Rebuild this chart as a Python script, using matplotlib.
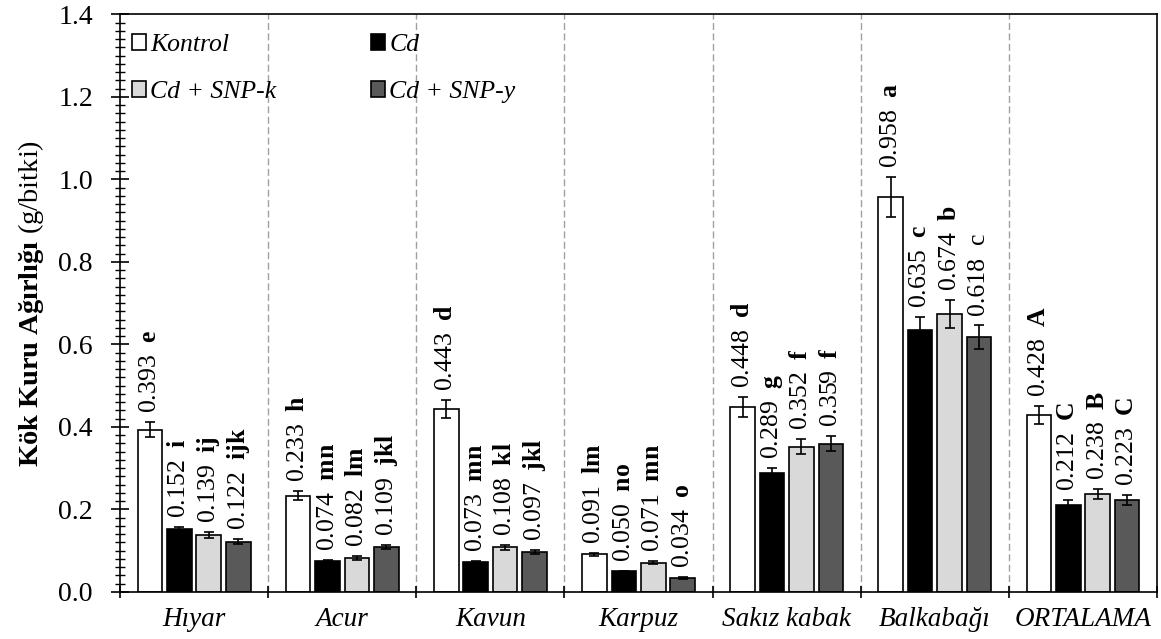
import numpy as np
import matplotlib
matplotlib.use("Agg")
import matplotlib.pyplot as plt
from matplotlib.ticker import MultipleLocator

plt.rcParams["font.family"] = ["Liberation Serif", "DejaVu Serif"]
plt.rcParams["mathtext.fontset"] = "custom"
plt.rcParams["mathtext.rm"] = "Liberation Serif"
plt.rcParams["mathtext.it"] = "Liberation Serif:italic"
plt.rcParams["mathtext.bf"] = "Liberation Serif:bold"

# Data
groups = ["Hıyar", "Acur", "Kavun", "Karpuz", "Sakız kabak", "Balkabağı", "ORTALAMA"]
treatments = ["Kontrol", "Cd", "Cd + SNP-k", "Cd + SNP-y"]

kontrol = [0.393, 0.233, 0.443, 0.091, 0.448, 0.958, 0.428]
cd = [0.152, 0.074, 0.073, 0.050, 0.289, 0.635, 0.212]
cd_snp_k = [0.139, 0.082, 0.108, 0.071, 0.352, 0.674, 0.238]
cd_snp_y = [0.122, 0.109, 0.097, 0.034, 0.359, 0.618, 0.223]

err_kontrol = [0.018, 0.011, 0.022, 0.004, 0.025, 0.048, 0.022]
err_cd = [0.006, 0.003, 0.003, 0.002, 0.012, 0.032, 0.010]
err_snp_k = [0.007, 0.004, 0.006, 0.003, 0.018, 0.034, 0.012]
err_snp_y = [0.006, 0.005, 0.004, 0.002, 0.018, 0.030, 0.011]

let_kontrol = ["e", "h", "d", "lm", "d", "a", "A"]
let_cd = ["i", "mn", "mn", "no", "g", "c", "C"]
let_snp_k = ["ij", "lm", "kl", "mn", "f", "b", "B"]
let_snp_y = ["ijk", "jkl", "jkl", "o", "f", "c", "C"]
# the 0.618 "c" is not bold in the original
bold_snp_y = [True, True, True, True, True, False, True]

values = [kontrol, cd, cd_snp_k, cd_snp_y]
errors = [err_kontrol, err_cd, err_snp_k, err_snp_y]
letters = [let_kontrol, let_cd, let_snp_k, let_snp_y]
bolds = [[True] * 7, [True] * 7, [True] * 7, bold_snp_y]
colors = ["white", "black", "#d9d9d9", "#595959"]

fig = plt.figure(figsize=(11.61, 6.39), dpi=100)
ax = fig.add_axes([0.1034, 0.0736, 0.8932, 0.9038])

centers = np.arange(len(groups)) + 0.5
offsets = [-0.298, -0.099, 0.099, 0.298]
width = 0.166

# group separators
for b in range(1, len(groups)):
    ax.axvline(b, color="#a0a0a0", lw=1, linestyle=(0, (5, 2.5)), zorder=0)

for k in range(4):
    x = centers + offsets[k]
    ax.bar(
        x, values[k], width,
        color=colors[k], edgecolor="black", linewidth=1.2,
        label=treatments[k], zorder=2,
    )
    ax.errorbar(
        x, values[k], yerr=errors[k],
        fmt="none", ecolor="black", elinewidth=1.2,
        capsize=3.5, capthick=1.2, zorder=3,
    )
    for i in range(len(groups)):
        let = letters[k][i]
        if bolds[k][i]:
            lab = f"{values[k][i]:.3f}  $\\mathbf{{{let}}}$"
        else:
            lab = f"{values[k][i]:.3f}  {let}"
        ax.annotate(
            lab,
            xy=(x[i], values[k][i] + errors[k][i]),
            xytext=(0, 9), textcoords="offset pixels",
            rotation=90, ha="center", va="bottom",
            fontsize=18.5,
        )

ax.set_xlim(0, len(groups))
ax.set_ylim(0, 1.4)

ax.set_xticks(np.arange(len(groups) + 1))
ax.set_xticklabels([])
ax.set_xticks(centers, minor=True)
ax.set_xticklabels(groups, minor=True, fontsize=19.5, style="italic")
ax.tick_params(axis="x", which="major", direction="inout", length=8, width=1.2)
ax.tick_params(axis="x", which="minor", length=0, pad=11)

ax.yaxis.set_major_locator(MultipleLocator(0.2))
ax.yaxis.set_minor_locator(MultipleLocator(0.02))
ax.set_yticks(np.arange(0, 1.41, 0.2))
ax.set_yticklabels([f"{v:.1f}" for v in np.arange(0, 1.41, 0.2)], fontsize=20)
ax.tick_params(axis="y", which="major", direction="inout", length=13, width=1.2, pad=13)
ax.tick_params(axis="y", which="minor", direction="inout", length=7, width=1)

for s in ax.spines.values():
    s.set_linewidth(1.2)

ax.set_ylabel(r"$\mathbf{Kök\ Kuru\ Ağırlığı}$ (g/bitki)", fontsize=20.5, labelpad=9)

# legend order so the columns read Kontrol / Cd+SNP-k and Cd / Cd+SNP-y
h, l = ax.get_legend_handles_labels()
order = [0, 2, 1, 3]
leg = ax.legend(
    [h[o] for o in order], [l[o] for o in order],
    ncol=2, loc="upper left", bbox_to_anchor=(0, 0.986),
    frameon=False, borderaxespad=0, borderpad=0.45,
    handlelength=0.56, handleheight=0.56, handletextpad=0.15,
    labelspacing=0.97, columnspacing=3.7,
    prop={"family": "Liberation Serif", "style": "italic", "size": 18.5},
)

plt.savefig("out.png", dpi=100)
